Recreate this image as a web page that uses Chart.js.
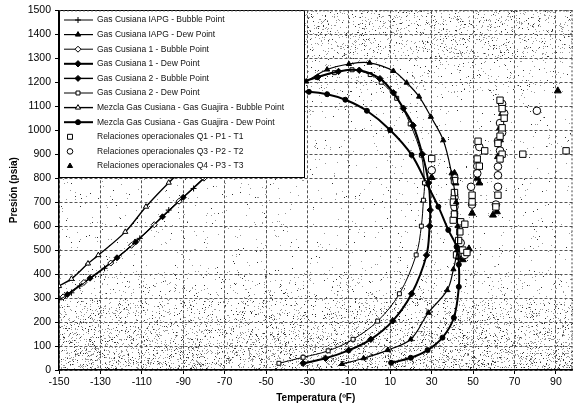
<!DOCTYPE html>
<html><head><meta charset="utf-8">
<script src="https://cdn.jsdelivr.net/npm/chart.js@4/dist/chart.umd.min.js"></script>
<style>html,body{margin:0;padding:0;background:#fff}</style>
</head><body>
<canvas id="c" width="578" height="408"></canvas>
<script>
// ---- tick labels ----
const xTickValues = [-150,-130,-110,-90,-70,-50,-30,-10,10,30,50,70,90];
const yTickValues = [0,100,200,300,400,500,600,700,800,900,1000,1100,1200,1300,1400,1500];

// ---- phase envelope series (T in ºF, P in psia) ----
const iapgBubbleT = [-150,-144,-140,-128,-111,-97,-85,-70];
const iapgBubbleP = [293,322,350,424,549,667,757,880];
const iapgDewT = [-40,-30.6,-20.5,-10,0,11.5,17.9,23.9,29.6,35.6,39.6,41.8,42.5,42.3,40.5,37.5,28.4,19.9,8.8,-2.9,-13.3];
const iapgDewP = [1160,1203,1253,1276,1281,1247,1198,1140,1056,958,820,700,600,500,420,333,239,128,83,49,25];

const cus1BubbleT = [-148,-138,-125,-115,-104,-92,-80,-70];
const cus1BubbleP = [305,365,446,520,606,704,800,880];
const cus1DewT = [-40,-25,-15,-5,5,11.5,16.3,21,25.5,28.5,29.3,29,27.5,20.3,11.2,0.6,-10.1,-21.3,-32.1];
const cus1DewP = [1180,1222,1245,1250,1215,1156,1091,1020,900,780,667,600,479,318,205,128,82,49,28];

const cus2BubbleT = [-146,-135,-122,-113,-100,-90,-78,-70];
const cus2BubbleP = [315,383,468,534,639,720,816,880];
const cus2DewT = [-40,-25.3,-17,-8.5,0.3,5.6,13.1,19.6,25,26.5,26,25,22.5,14.4,3.9,-8,-20,-32.1,-43.8];
const cus2DewP = [1185,1220,1240,1252,1232,1200,1133,1026,896,780,708,600,480,318,204,128,80,53,28];

const mezBubbleT = [-150,-144,-136,-131,-118,-108,-97,-85,-70];
const mezBubbleP = [350,380,444,479,576,681,781,880,990];
const mezDewT = [-45,-29.3,-20.5,-11.7,-1.3,9.9,20.3,27.5,33.2,38,42,43.1,43.1,40.7,35.2,28,19.9,10.4];
const mezDewP = [1165,1160,1150,1127,1081,1001,897,778,681,584,514,440,347,218,135,83,51,30];

// ---- operational relations ----
const q1T = [30,40.4,44,46,43.6,52.4,55.6,74,94.9,49.5,49.5,62,
  63,64,65,64,63,62,64,63, 52,53, 41,41,41, 43,45,47,42, 40.5,61];
const q1P = [882,625,618,608,576,954,914,900,914,729,701,729,
  1125,1090,1050,1010,975,945,900,880, 880,850, 790,740,650, 540,500,490,480, 700,680];
const q3T = [30,80.8,62,62,49,62,52,52,53, 64,65,63,64,62,63, 41,41,41, 44,46, 49.5,61];
const q3P = [833,1081,848,812,764,764,850,820,930, 1110,1070,1030,990,955,915, 800,720,680, 530,480, 690,690];
const q4T = [30,90.9,49.5,59.6,61.5,52,53, 64,63,63,62, 41,41.5,41,41.5,41, 43,45,48];
const q4P = [803,1164,654,646,660,800,780, 1070,1010,960,890, 820,780,740,700,660, 470,460,505];

const labels = [
  'Gas Cusiana IAPG - Bubble Point',
  'Gas Cusiana IAPG - Dew Point',
  'Gas Cusiana 1 - Bubble Point',
  'Gas Cusiana 1 - Dew Point',
  'Gas Cusiana 2 - Bubble Point',
  'Gas Cusiana 2 - Dew Point',
  'Mezcla Gas Cusiana - Gas Guajira - Bubble Point',
  'Mezcla Gas Cusiana - Gas Guajira - Dew Point',
  'Relaciones operacionales Q1 - P1 - T1',
  'Relaciones operacionales Q3 - P2 - T2',
  'Relaciones operacionales Q4 - P3 - T3'
];

const pts = (T, P) => T.map((t, i) => ({x: t, y: P[i]}));

function line(label, T, P, style, radius, fill, width, dash) {
  return {label, data: pts(T, P), showLine: true, tension: 0.35,
    borderColor: '#000', backgroundColor: fill, borderWidth: width, borderDash: dash || [],
    pointStyle: style, pointRadius: radius, pointBorderColor: '#000', pointBackgroundColor: fill,
    pointBorderWidth: 1, isLine: true};
}
function scat(label, T, P, style, radius, fill) {
  return {label, data: pts(T, P), showLine: false,
    borderColor: '#000', backgroundColor: fill, pointStyle: style, pointRadius: radius,
    pointBorderColor: '#000', pointBackgroundColor: fill, pointBorderWidth: 1, isLine: false};
}

const datasets = [
  line(labels[0], iapgBubbleT, iapgBubbleP, 'cross', 3, '#000', 1),
  line(labels[1], iapgDewT, iapgDewP, 'triangle', 3, '#000', 1.2),
  line(labels[2], cus1BubbleT, cus1BubbleP, 'rectRot', 3, '#fff', 1),
  line(labels[3], cus1DewT, cus1DewP, 'rectRot', 3.2, '#000', 2),
  line(labels[4], cus2BubbleT, cus2BubbleP, 'rectRot', 3, '#000', 1.4),
  line(labels[5], cus2DewT, cus2DewP, 'rect', 2.8, '#fff', 1),
  line(labels[6], mezBubbleT, mezBubbleP, 'triangle', 3, '#fff', 1.4),
  line(labels[7], mezDewT, mezDewP, 'circle', 2.5, '#000', 2),
  scat(labels[8], q1T, q1P, 'rect', 4.5, '#fff'),
  scat(labels[9], q3T, q3P, 'circle', 3.8, '#fff'),
  scat(labels[10], q4T, q4P, 'triangle', 4, '#000')
];

// stipple background (decoration only)
const stipple = {
  id: 'stipple',
  beforeDraw(chart) {
    const {ctx, chartArea: a, scales: {y}} = chart;
    ctx.save();
    for (let py = Math.ceil(a.top); py < a.bottom; py++) {
      const p = y.getValueForPixel(py);
      let d;
      if (p < 300) d = 0.08 + (300 - p) / 300 * 0.10;
      else if (p < 420) d = 0.04;
      else if (p > 1300) d = 0.09;
      else if (p > 1150) d = 0.04;
      else d = 0.012;
      for (let px = Math.ceil(a.left); px < a.right; px++) {
        let h = (px * 374761393 + py * 668265263) | 0;
        h = Math.imul(h ^ (h >>> 13), 1274126177);
        h = (h ^ (h >>> 16)) >>> 0;
        const r = (h % 10000) / 10000;
        if (r < d) {
          ctx.fillStyle = (h >> 5) % 4 === 0 ? '#333' : '#999';
          ctx.fillRect(px, py, 1, 1);
        }
      }
    }
    ctx.restore();
  }
};

// legend box drawn inside the plot
const boxLegend = {
  id: 'boxLegend',
  afterDatasetsDraw(chart) {
    const {ctx} = chart;
    const x0 = 59, y0 = 10, x1 = 304, y1 = 177;
    ctx.save();
    ctx.fillStyle = '#fff';
    ctx.fillRect(x0, y0, x1 - x0, y1 - y0);
    ctx.strokeStyle = '#000'; ctx.lineWidth = 1;
    ctx.strokeRect(x0 + 0.5, y0 + 0.5, x1 - x0, y1 - y0);
    ctx.font = '8.5px "Liberation Sans", Arial, sans-serif';
    ctx.textBaseline = 'middle';
    chart.data.datasets.forEach((ds, i) => {
      const cy = 20 + i * 14.6;
      if (ds.isLine) {
        ctx.strokeStyle = '#000'; ctx.lineWidth = ds.borderWidth;
        ctx.setLineDash(ds.borderDash || []);
        ctx.beginPath(); ctx.moveTo(64, cy); ctx.lineTo(93, cy); ctx.stroke();
        ctx.setLineDash([]);
      }
      ctx.fillStyle = ds.pointBackgroundColor; ctx.strokeStyle = '#000'; ctx.lineWidth = 1;
      Chart.helpers.drawPoint(ctx, {pointStyle: ds.pointStyle, radius: ds.isLine ? ds.pointRadius : ds.pointRadius - 1, rotation: 0, borderWidth: 1}, ds.isLine ? 78 : 70, cy);
      ctx.fillStyle = '#111';
      ctx.fillText(ds.label, 97, cy);
    });
    ctx.restore();
  },
  afterDraw(chart) {
    const {ctx, chartArea: a} = chart;
    ctx.save();
    ctx.strokeStyle = '#444'; ctx.lineWidth = 1; ctx.setLineDash([2, 2]);
    ctx.beginPath();
    ctx.moveTo(a.left, a.top + 0.5); ctx.lineTo(a.right, a.top + 0.5);
    ctx.moveTo(a.right - 0.5, a.top); ctx.lineTo(a.right - 0.5, a.bottom);
    ctx.stroke();
    ctx.restore();
  }
};

const tickFont = {family: '"Liberation Sans", Arial, sans-serif', size: 10.5};
const titleFont = {family: '"Liberation Sans", Arial, sans-serif', size: 10, weight: 'bold'};

new Chart(document.getElementById('c'), {
  type: 'scatter',
  data: {datasets},
  options: {
    responsive: false, animation: false, devicePixelRatio: 1,
    layout: {padding: {top: 10, right: 3, left: 0, bottom: 0}},
    plugins: {legend: {display: false}, tooltip: {enabled: false}},
    scales: {
      x: {
        type: 'linear', min: -150, max: 98,
        afterBuildTicks: s => { s.ticks = xTickValues.map(v => ({value: v})); },
        afterFit: s => { s.height = 38; },
        ticks: {font: tickFont, color: '#000', padding: 2, autoSkip: false, maxRotation: 0,
          callback: v => String(v)},
        grid: {color: '#555', lineWidth: 1, tickLength: 4, tickColor: '#000', tickBorderDash: []},
        border: {display: true, color: '#000', width: 1.5, dash: [3, 2]},
        title: {display: true, text: 'Temperatura (ºF)', font: titleFont, color: '#000', padding: {top: 0, bottom: 4}}
      },
      y: {
        type: 'linear', min: 0, max: 1500,
        afterBuildTicks: s => { s.ticks = yTickValues.map(v => ({value: v})); },
        afterFit: s => { s.width = 59; },
        ticks: {font: tickFont, color: '#000', padding: 4, autoSkip: false,
          callback: v => String(v)},
        grid: {color: '#555', lineWidth: 1, tickLength: 4, tickColor: '#000', tickBorderDash: []},
        border: {display: true, color: '#000', width: 1.5, dash: [3, 2]},
        title: {display: true, text: 'Presión (psia)', font: titleFont, color: '#000', padding: {top: 8, bottom: 0}}
      }
    }
  },
  plugins: [stipple, boxLegend]
});
</script>
</body></html>
